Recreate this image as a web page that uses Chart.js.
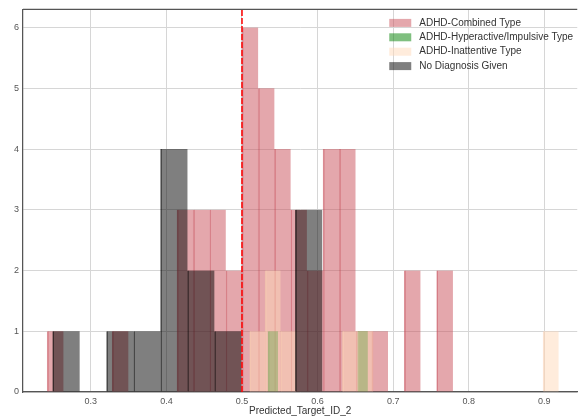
<!DOCTYPE html>
<html>
<head>
<meta charset="utf-8">
<script src="https://cdn.jsdelivr.net/npm/chart.js@4.4.1/dist/chart.umd.min.js"></script>
<style>
  html, body { margin: 0; padding: 0; background: #fff; overflow: hidden; }
  #wrap { width: 578px; height: 417px; }
</style>
</head>
<body>
<div id="wrap"><canvas id="hist" width="578" height="417"></canvas></div>
<script>
// centres of the non-empty bins, their counts and the bin width, per group
const combinedBins   = [0.2531, 0.3390, 0.4248, 0.4463, 0.4678, 0.4893, 0.5107, 0.5322, 0.5536, 0.5751, 0.5966, 0.6180, 0.6395, 0.6610, 0.6824, 0.7254, 0.7683];
const combinedCounts = [1, 1, 3, 3, 3, 2, 6, 5, 4, 3, 2, 4, 4, 1, 1, 2, 2];
const combinedWidth  = 0.02147;

const hyperBins   = [0.5410, 0.6598];
const hyperCounts = [1, 1];
const hyperWidth  = 0.01321;

const inattBins   = [0.5204, 0.5408, 0.5613, 0.6430, 0.6634, 0.9086];
const inattCounts = [1, 2, 1, 1, 1, 1];
const inattWidth  = 0.02043;

const noDiagBins   = [0.2674, 0.3387, 0.3744, 0.4101, 0.4457, 0.4814, 0.5884];
const noDiagCounts = [1, 1, 1, 4, 2, 1, 3];
const noDiagWidth  = 0.03567;

const groupNames = ['ADHD-Combined Type', 'ADHD-Hyperactive/Impulsive Type', 'ADHD-Inattentive Type', 'No Diagnosis Given'];
const xTicks = [0.3, 0.4, 0.5, 0.6, 0.7, 0.8, 0.9];
const yTicks = [0, 1, 2, 3, 4, 5, 6];
const threshold = 0.5;
const xTitle = 'Predicted_Target_ID_2';

const X_MIN = 0.2103, X_MAX = 0.9435, Y_MAX = 6.3;

const groups = [
    { bins: combinedBins, counts: combinedCounts, width: combinedWidth, fill: 'rgba(201, 80, 90, 0.5)',  edge: 'rgba(195, 70, 82, 0.58)' },
    { bins: hyperBins,    counts: hyperCounts,    width: hyperWidth,    fill: 'rgba(0, 128, 0, 0.5)',    edge: 'rgba(0, 115, 0, 0.55)' },
    { bins: inattBins,    counts: inattCounts,    width: inattWidth,    fill: 'rgba(255, 218, 185, 0.5)', edge: 'rgba(248, 205, 175, 0.55)' },
    { bins: noDiagBins,   counts: noDiagCounts,   width: noDiagWidth,   fill: 'rgba(0, 0, 0, 0.5)',      edge: 'rgba(0, 0, 0, 0.62)' }
];

const datasets = groups.map((g, i) => ({
    type: 'bar',
    label: groupNames[i],
    data: g.bins.map((b, j) => ({ x: b, y: g.counts[j] })),
    backgroundColor: g.fill,
    borderColor: g.edge,
    borderWidth: { left: 1, right: 0, top: 0, bottom: 0 },
    grouped: false,
    barThickness: 10,
    binWidth: g.width,
    order: groups.length - i + 1
}));

// 閾值虛線
datasets.push({
    type: 'line',
    label: 'threshold',
    data: [{ x: threshold, y: 0 }, { x: threshold, y: Y_MAX }],
    borderColor: '#ff0000',
    borderWidth: 1.5,
    borderDash: [6, 2],
    pointRadius: 0,
    order: 0
});

// top spine + legend drawn on the chart area
const framePlugin = {
    id: 'frame',
    afterDraw(chart) {
        const { ctx, chartArea } = chart;
        ctx.save();
        ctx.strokeStyle = '#555';
        ctx.lineWidth = 1.25;
        ctx.beginPath();
        ctx.moveTo(chartArea.left, chartArea.top);
        ctx.lineTo(chartArea.right, chartArea.top);
        ctx.stroke();

        const sx = chartArea.right - 188;
        let cy = chartArea.top + 13.5;
        ctx.font = '10px "Liberation Sans", Arial, sans-serif';
        ctx.textBaseline = 'middle';
        ctx.textAlign = 'left';
        groupNames.forEach((name, i) => {
            ctx.fillStyle = groups[i].fill;
            ctx.fillRect(sx, cy - 4, 22, 8);
            ctx.fillStyle = '#333';
            ctx.fillText(name, sx + 30, cy);
            cy += 14.4;
        });
        ctx.restore();
    }
};

const tickFont = { family: '"Liberation Sans", Arial, sans-serif', size: 9 };

const chart = new Chart(document.getElementById('hist'), {
    type: 'bar',
    data: { datasets },
    options: {
        responsive: false,
        animation: false,
        layout: { padding: { top: 9, left: 0, right: 0, bottom: 0 } },
        plugins: { legend: { display: false }, tooltip: { enabled: false } },
        scales: {
            x: {
                type: 'linear',
                min: X_MIN,
                max: X_MAX,
                offset: false,
                afterBuildTicks: axis => { axis.ticks = xTicks.map(v => ({ value: v })); },
                afterFit: axis => { axis.height = 25; },
                ticks: { font: tickFont, color: '#555', padding: 4, maxRotation: 0, callback: v => v.toFixed(1) },
                grid: { color: '#d6d6d6', lineWidth: 1, drawTicks: false, offset: false },
                border: { color: '#555', width: 1.25 },
                title: { display: true, text: xTitle, color: '#333', font: { family: '"Liberation Sans", Arial, sans-serif', size: 10 }, padding: { top: 0, bottom: 0 } }
            },
            y: {
                type: 'linear',
                min: 0,
                max: Y_MAX,
                afterBuildTicks: axis => { axis.ticks = yTicks.map(v => ({ value: v })); },
                afterFit: axis => { axis.width = 23; },
                ticks: { font: tickFont, color: '#555', padding: 4 },
                grid: { color: '#d6d6d6', lineWidth: 1, drawTicks: false },
                border: { color: '#555', width: 1.25 }
            }
        }
    },
    plugins: [framePlugin]
});

// bar widths follow the bin widths on the x scale
const xScale = chart.scales.x;
chart.data.datasets.forEach(ds => {
    if (ds.binWidth) ds.barThickness = xScale.getPixelForValue(ds.binWidth) - xScale.getPixelForValue(0);
});
chart.update('none');
</script>
</body>
</html>
